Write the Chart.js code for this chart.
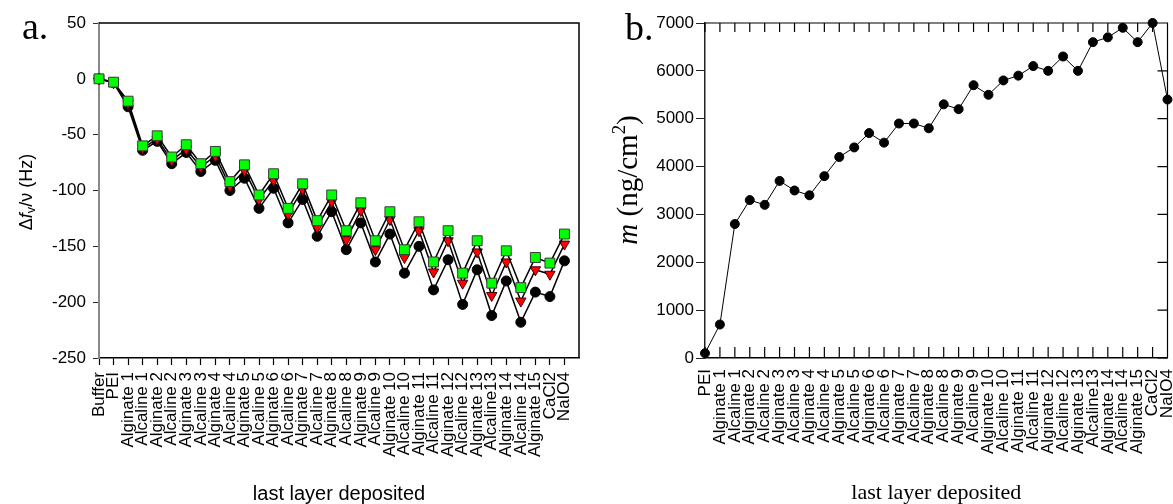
<!DOCTYPE html>
<html>
<head>
<meta charset="utf-8">
<script src="https://cdn.jsdelivr.net/npm/chart.js@4.4.1/dist/chart.umd.min.js"></script>
<style>
body { margin: 0; width: 1173px; height: 504px; overflow: hidden; background: #fff; position: relative; }
.box { position: absolute; top: 0; height: 504px; }
.lbl { position: absolute; font-family: 'Liberation Serif', 'Times New Roman', serif; font-size: 38px; line-height: 38px; }
.ytitle { position: absolute; white-space: nowrap; transform: translate(-50%, -50%) rotate(-90deg); }
sub { font-size: 0.7em; vertical-align: -0.3em; line-height: 0; }
sup { font-size: 0.65em; vertical-align: 0.6em; line-height: 0; }
</style>
</head>
<body>
<div class="box" style="left:0;width:590px"><canvas id="chartA"></canvas></div>
<div class="box" style="left:590px;width:583px"><canvas id="chartB"></canvas></div>
<div class="lbl" style="left:22px;top:7px">a.</div>
<div class="lbl" style="left:625px;top:8px">b.</div>
<div class="ytitle" style="left:26px;top:192px;font:18px 'Liberation Sans',Arial,sans-serif">Δ<i>f</i><sub>v</sub>/ν (Hz)</div>
<div class="ytitle" style="left:627px;top:180px;font:29px 'Liberation Serif','Times New Roman',serif"><i>m</i> (ng/cm<sup>2</sup>)</div>
<script>
// panel a: frequency shift per layer, three overtones
const layersA = ['Buffer', 'PEI', 'Alginate 1', 'Alcaline 1', 'Alginate 2', 'Alcaline 2', 'Alginate 3', 'Alcaline 3',
  'Alginate 4', 'Alcaline 4', 'Alginate 5', 'Alcaline 5', 'Alginate 6', 'Alcaline 6', 'Alginate 7', 'Alcaline 7',
  'Alginate 8', 'Alcaline 8', 'Alginate 9', 'Alcaline 9', 'Alginate 10', 'Alcaline 10', 'Alginate 11', 'Alcaline 11',
  'Alginate 12', 'Alcaline 12', 'Alginate 13', 'Alcaline13', 'Alginate 14', 'Alcaline 14', 'Alginate 15', 'CaCl2', 'NaIO4']
const circlesA = [0, -3.5, -25, -64, -56, -76, -66, -83, -73, -100, -89, -116, -98, -129, -108, -141, -119, -153,
  -129, -164, -139, -174, -150, -189, -162, -202, -171, -212, -181, -218, -191, -195, -163]
const trianglesA = [0, -3.5, -22, -62, -54, -73, -63, -79, -69, -96, -82, -108, -91, -121, -99, -133, -110, -144,
  -118, -153, -126, -160, -136, -173, -145, -183, -155, -194, -164, -199, -171, -175, -148]
const squaresA = [0, -3, -20, -60, -51, -70, -59, -76, -65, -92, -77, -104, -85, -116, -94, -127, -104, -136,
  -111, -145, -119, -153, -128, -164, -136, -174, -145, -183, -154, -187, -160, -165, -139]

// panel b: deposited mass
const layersB = layersA.slice(1)
const massB = [100, 700, 2800, 3300, 3200, 3700, 3500, 3400, 3800, 4200, 4400, 4700, 4500, 4900, 4900, 4800,
  5300, 5200, 5700, 5500, 5800, 5900, 6100, 6000, 6300, 6000, 6600, 6700, 6900, 6600, 7000, 5400]

const yTicksA = { min: -250, max: 50, step: 50 }
const yTicksB = { min: 0, max: 7000, step: 1000 }

Chart.defaults.font.family = "'Liberation Sans', Arial, sans-serif"
Chart.defaults.color = '#000'

// top and right border, optionally with inward ticks
const frame = {
  id: 'frame',
  beforeDatasetsDraw(chart, args, opts) {
    const { ctx, chartArea: a, scales } = chart
    ctx.save()
    ctx.strokeStyle = '#000'
    ctx.lineWidth = opts.width
    ctx.beginPath()
    ctx.moveTo(a.left, a.top)
    ctx.lineTo(a.right, a.top)
    ctx.lineTo(a.right, a.bottom)
    if (opts.inTicks) {
      scales.x.ticks.forEach((t, i) => {
        const px = scales.x.getPixelForTick(i)
        ctx.moveTo(px, a.top)
        ctx.lineTo(px, a.top + 9)
        ctx.moveTo(px, a.bottom)
        ctx.lineTo(px, a.bottom - 11)
      })
      scales.y.ticks.forEach((t, i) => {
        const py = scales.y.getPixelForTick(i)
        ctx.moveTo(a.right, py)
        ctx.lineTo(a.right - 10, py)
      })
    }
    ctx.stroke()
    ctx.restore()
  }
}

function series(values, style, radius, fill, edge, rotation) {
  return {
    data: values,
    borderColor: '#000',
    borderWidth: 1.5,
    pointStyle: style,
    pointRadius: radius,
    pointRotation: rotation,
    pointBackgroundColor: fill,
    pointBorderColor: edge,
    pointBorderWidth: 1,
    tension: 0,
    clip: false
  }
}

new Chart(document.getElementById('chartA'), {
  type: 'line',
  data: {
    labels: layersA.concat(['']),
    datasets: [
      series(squaresA, 'rect', 7, '#00ff00', '#3a3a3a', 0),
      series(trianglesA, 'triangle', 6, '#ff0000', '#400000', 180),
      series(circlesA, 'circle', 5, '#000', '#000', 0)
    ]
  },
  options: {
    animation: false,
    responsive: true,
    maintainAspectRatio: false,
    layout: { padding: { top: 23, right: 11, left: 0, bottom: 0 } },
    plugins: { legend: { display: false }, tooltip: { enabled: false }, frame: { width: 1.5 } },
    scales: {
      x: {
        offset: false,
        grid: {
          drawOnChartArea: false, tickLength: 7, tickWidth: 1.2,
          tickColor: c => c.index === layersA.length ? 'rgba(0,0,0,0)' : '#000'
        },
        border: { color: '#000', width: 1.5 },
        ticks: { autoSkip: false, minRotation: 90, maxRotation: 90, padding: 7, font: { size: 17 } },
        title: { display: true, text: 'last layer deposited', font: { size: 20, lineHeight: 1 }, padding: 0 },
        afterFit: s => { s.height = 146; s.paddingLeft = 0; s.paddingRight = 0 }
      },
      y: {
        min: yTicksA.min, max: yTicksA.max,
        ticks: { stepSize: yTicksA.step, padding: 7, font: { size: 17 }, callback: v => String(v) },
        grid: { drawOnChartArea: false, tickLength: 6, tickColor: '#333' },
        border: { color: '#888', width: 2 },
        afterFit: s => { s.width = 99 }
      }
    }
  },
  plugins: [frame]
})

new Chart(document.getElementById('chartB'), {
  type: 'line',
  data: {
    labels: layersB,
    datasets: [{
      data: massB,
      borderColor: '#000',
      borderWidth: 1,
      pointStyle: 'circle',
      pointRadius: 4.5,
      pointBackgroundColor: '#000',
      pointBorderColor: '#000',
      tension: 0,
      clip: false
    }]
  },
  options: {
    animation: false,
    responsive: true,
    maintainAspectRatio: false,
    layout: { padding: { top: 23, right: 3, left: 0, bottom: 0 } },
    plugins: { legend: { display: false }, tooltip: { enabled: false }, frame: { width: 1.2, inTicks: true } },
    scales: {
      x: {
        offset: false,
        grid: { drawOnChartArea: false, drawTicks: false },
        border: { color: '#000', width: 1.5 },
        ticks: { autoSkip: false, minRotation: 90, maxRotation: 90, padding: 11, font: { size: 17 } },
        title: {
          display: true, text: 'last layer deposited', padding: 0,
          font: { family: "'Liberation Serif', 'Times New Roman', serif", size: 22, lineHeight: 1 }
        },
        afterFit: s => { s.height = 146; s.paddingLeft = 0; s.paddingRight = 0 }
      },
      y: {
        min: yTicksB.min, max: yTicksB.max,
        ticks: { stepSize: yTicksB.step, padding: 2, font: { size: 17 }, callback: v => String(v) },
        grid: { drawOnChartArea: false, tickLength: 9, tickColor: '#222' },
        border: { color: '#222', width: 1.5 },
        afterFit: s => { s.width = 115 }
      }
    }
  },
  plugins: [frame]
})
</script>
</body>
</html>
